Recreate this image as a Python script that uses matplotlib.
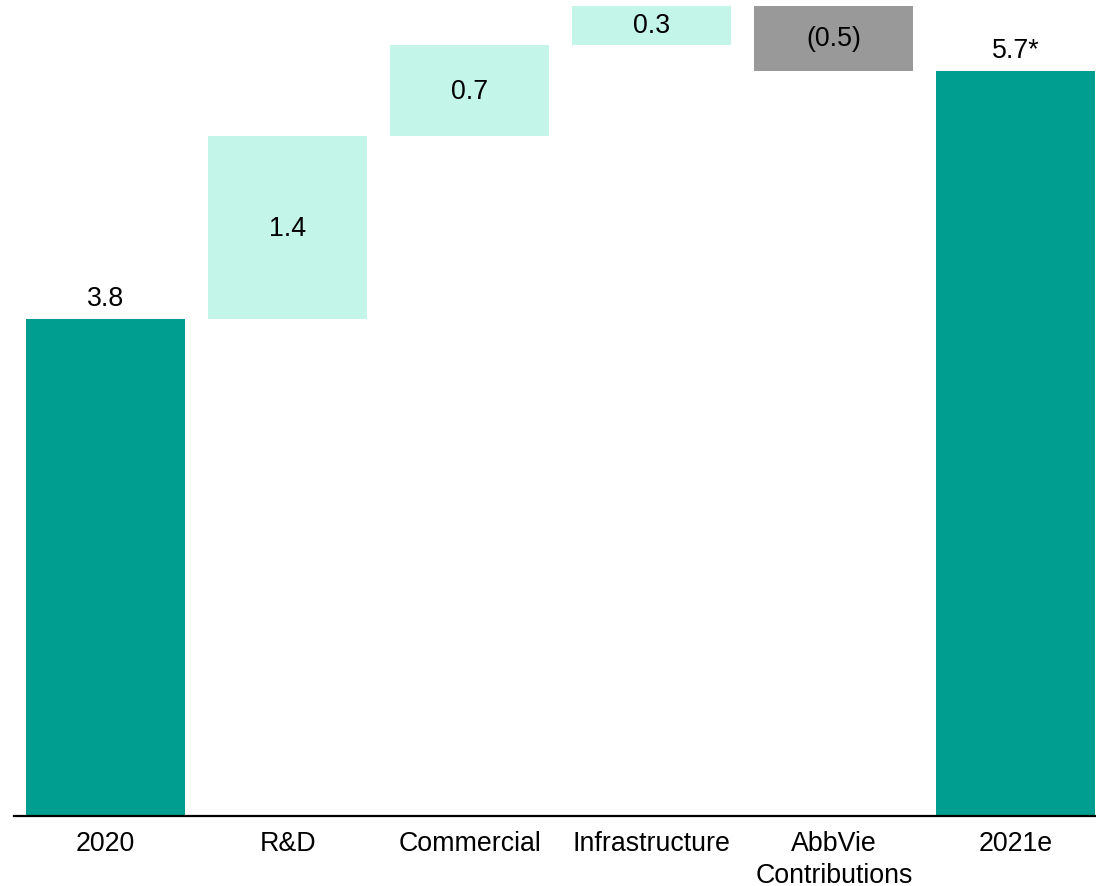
import matplotlib.pyplot as plt

plt.rcParams["font.family"] = ["Liberation Sans", "DejaVu Sans"]

categories = ["2020", "R&D", "Commercial", "Infrastructure", "AbbVie\nContributions", "2021e"]
changes = [3.8, 1.4, 0.7, 0.3, -0.5, 5.7]
labels = ["3.8", "1.4", "0.7", "0.3", "(0.5)", "5.7*"]
kinds = ["total", "step", "step", "step", "step", "total"]

TEAL = "#009e91"
MINT = "#c3f5e8"
GRAY = "#999999"
FS = 19.3

fig = plt.figure(figsize=(10.96, 8.87), dpi=100)
ax = fig.add_axes([14 / 1096, 70 / 887, 1 - 14 / 1096, 1 - 70 / 887])

running = 0.0
for i, (val, lab, kind) in enumerate(zip(changes, labels, kinds)):
    if kind == "total":
        bottom, height = 0, val
        color = TEAL
        running = val
    else:
        if val >= 0:
            bottom, height = running, val
            color = MINT
        else:
            bottom, height = running + val, -val
            color = GRAY
        running += val
    ax.bar(i, height, bottom=bottom, width=0.874, color=color, linewidth=0)
    if kind == "total":
        ax.text(i, bottom + height + 0.06, lab, ha="center", va="bottom", fontsize=FS)
    else:
        ax.text(i, bottom + height / 2, lab, ha="center", va="center", fontsize=FS)

ax.set_xlim(-0.503, 5.44)
ax.set_ylim(0, 6.25)
ax.set_xticks(range(len(categories)))
ax.set_xticklabels(categories, fontsize=FS, linespacing=1.3)
ax.tick_params(axis="x", length=0, pad=10)
ax.set_yticks([])
for side in ["top", "right", "left"]:
    ax.spines[side].set_visible(False)
ax.spines["bottom"].set_linewidth(1.6)

fig.savefig("out.png", dpi=100)
